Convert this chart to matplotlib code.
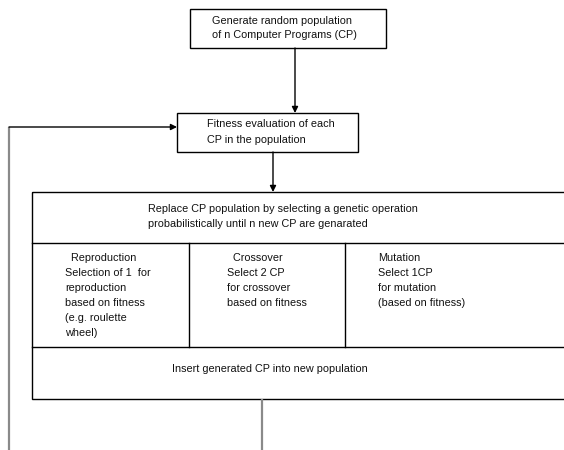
import matplotlib
matplotlib.use("Agg")
import matplotlib.pyplot as plt
from matplotlib.patches import Rectangle

plt.rcParams['font.family'] = ['Liberation Sans', 'DejaVu Sans']

# ---- content ----
start_lines = ["Generate random population", "of n Computer Programs (CP)"]
fitness_lines = ["Fitness evaluation of each", "CP in the population"]
replace_lines = ["Replace CP population by selecting a genetic operation",
                 "probabilistically until n new CP are genarated"]
reproduction_lines = ["  Reproduction", "Selection of 1  for", "reproduction",
                      "based on fitness", "(e.g. roulette", "wheel)"]
crossover_lines = ["  Crossover", "Select 2 CP", "for crossover", "based on fitness"]
mutation_lines = ["Mutation", "Select 1CP", "for mutation", "(based on fitness)"]
insert_lines = ["Insert generated CP into new population"]

W, H = 564, 450
fig = plt.figure(figsize=(W / 100, H / 100), dpi=100)
ax = fig.add_axes([0, 0, 1, 1])
ax.set_xlim(0, W)
ax.set_ylim(H, 0)
ax.axis('off')

FS = 7.85
LW = 1.0

def box(x0, y0, x1, y1):
    ax.add_patch(Rectangle((x0, y0), x1 - x0, y1 - y0, fill=False,
                           edgecolor='black', lw=LW, clip_on=True))

def lines(x, y, txts, dy):
    for i, t in enumerate(txts):
        ax.text(x, y + i * dy, t, fontsize=FS, ha='left', va='center', color='#111111')

def arrow(x0, y0, x1, y1):
    ax.annotate('', xy=(x1, y1), xytext=(x0, y0),
                arrowprops=dict(arrowstyle='-|>', color='black', lw=LW,
                                mutation_scale=9, shrinkA=0, shrinkB=0))

# top box
box(190, 9, 386, 48)
lines(212, 21, start_lines, 13.5)
arrow(295, 48, 295, 113)

# fitness box
box(177, 113, 358, 152)
lines(207, 124, fitness_lines, 16)
arrow(273, 152, 273, 192)

# big box (extends past the right edge)
box(32, 192, 580, 399)
ax.plot([32, 580], [243, 243], color='black', lw=LW)
ax.plot([32, 580], [347, 347], color='black', lw=LW)
ax.plot([189, 189], [243, 347], color='black', lw=LW)
ax.plot([345, 345], [243, 347], color='black', lw=LW)
lines(148, 209, replace_lines, 15)
lines(65, 258, reproduction_lines, 15)
lines(227, 258, crossover_lines, 15)
lines(378, 258, mutation_lines, 15)
lines(172, 369, insert_lines, 15)

# loop lines
ax.plot([262, 262], [399, 452], color='#8a8a8a', lw=1.6, solid_capstyle='butt')
ax.plot([9, 9], [452, 127], color='#8a8a8a', lw=1.6, solid_capstyle='butt')
arrow(9, 127, 177, 127)

fig.savefig('out.png', dpi=100, facecolor='white')
